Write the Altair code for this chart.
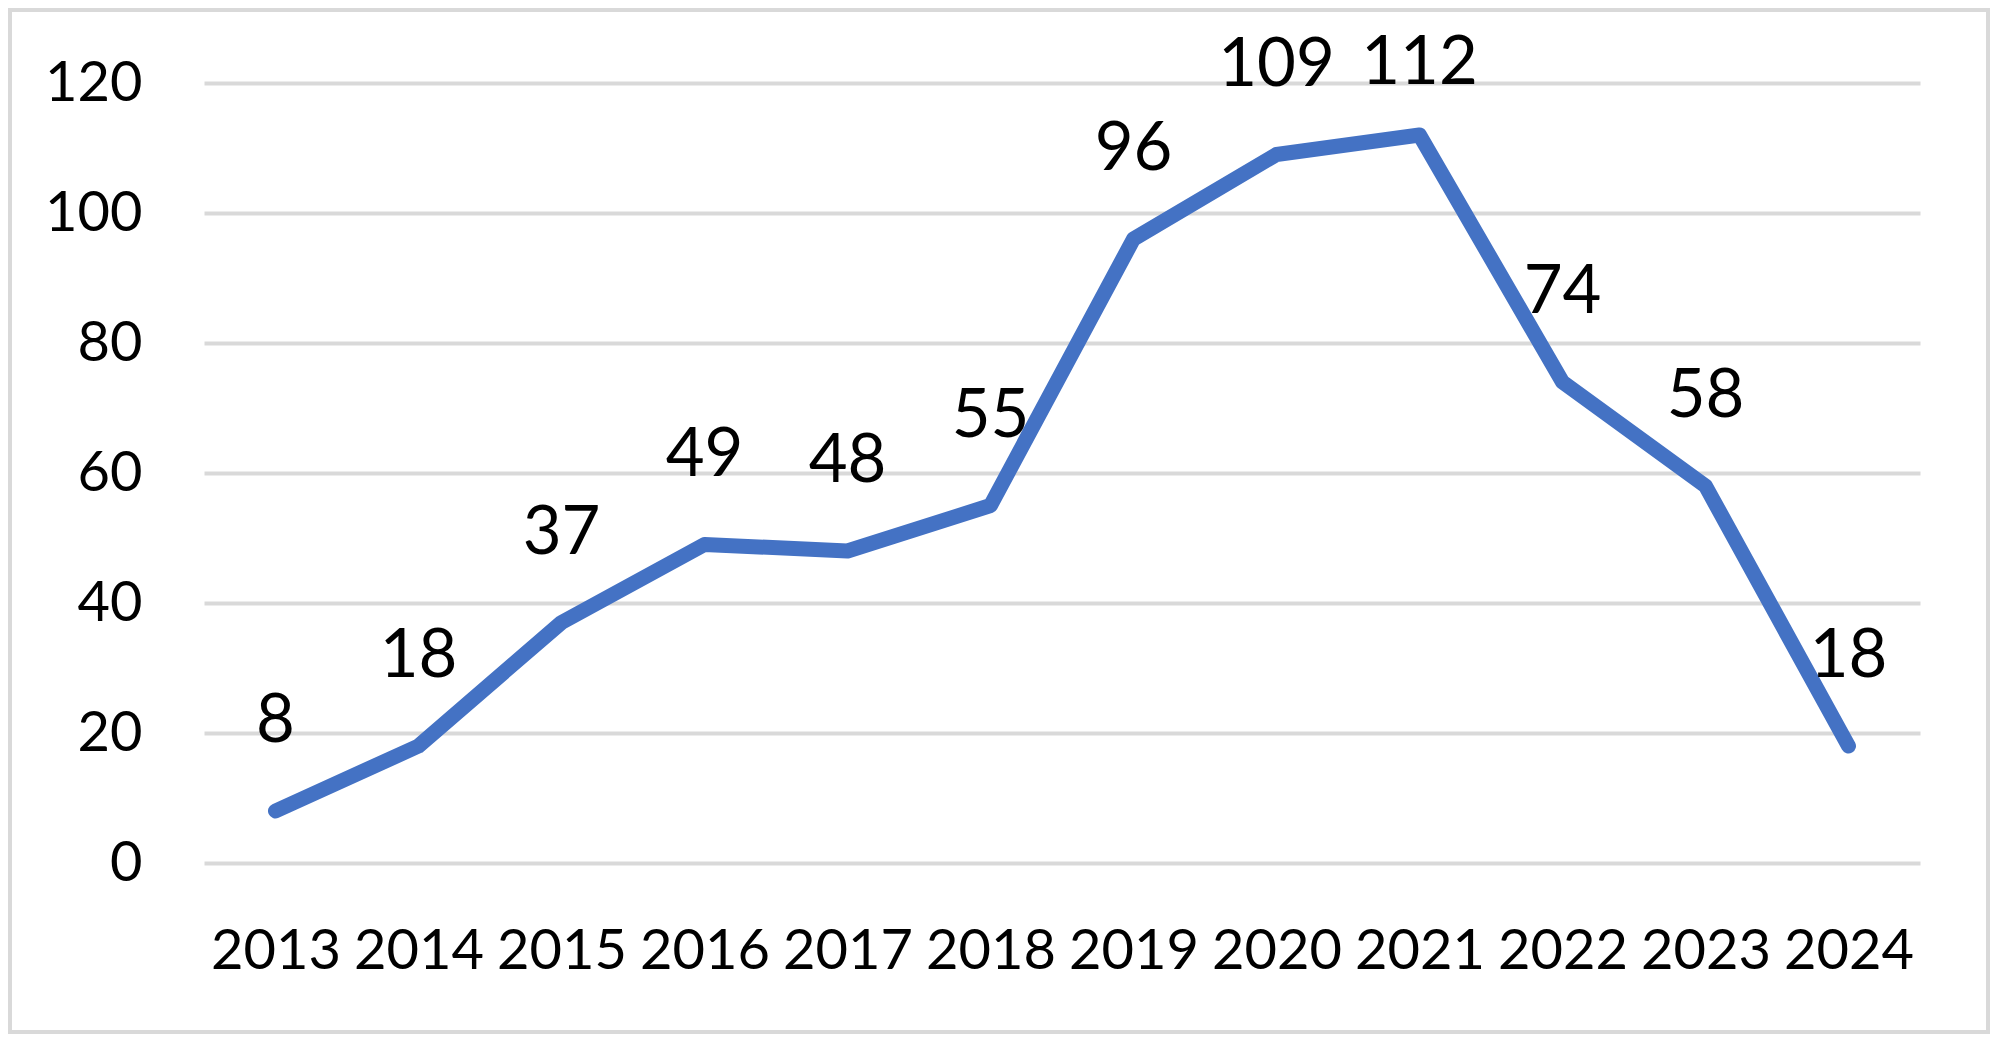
import altair as alt
import pandas as pd

years = ["2013", "2014", "2015", "2016", "2017", "2018", "2019", "2020", "2021", "2022", "2023", "2024"]
values = [8, 18, 37, 49, 48, 55, 96, 109, 112, 74, 58, 18]
y_ticks = [0, 20, 40, 60, 80, 100, 120]

df = pd.DataFrame({"year": years, "value": values})

FONT = "Lato"
PLOT_W = 1716
PLOT_H = 780
PAD_L, PAD_T, PAD_R, PAD_B = 196, 75, 70, 171

x_enc = alt.X(
    "year:O",
    sort=years,
    title=None,
    axis=alt.Axis(
        labelAngle=0,
        labelFont=FONT,
        labelFontSize=56,
        labelColor="#000000",
        labelPadding=61,
        ticks=False,
        tickSize=0,
        domain=False,
        grid=False,
    ),
)
y_enc = alt.Y(
    "value:Q",
    title=None,
    scale=alt.Scale(domain=[0, 120], nice=False),
    axis=alt.Axis(
        values=y_ticks,
        labelFont=FONT,
        labelFontSize=56,
        labelColor="#000000",
        labelPadding=62,
        ticks=False,
        tickSize=0,
        domain=False,
        grid=True,
        gridColor="#d9d9d9",
        gridWidth=4,
    ),
)

base = alt.Chart(df)

line = base.mark_line(
    color="#4472C4", strokeWidth=15, strokeCap="round", strokeJoin="round"
).encode(x=x_enc, y=y_enc)

# Data labels sit above each point, but are kept inside the chart area (as Excel does)
labels = (
    base.transform_calculate(label_y="min(datum.value, 109.2)")
    .mark_text(font=FONT, fontSize=67, color="#000000", baseline="alphabetic", dy=-69)
    .encode(
        x=alt.X("year:O", sort=years),
        y=alt.Y("label_y:Q"),
        text=alt.Text("value:Q"),
    )
)

border_df = pd.DataFrame({"k": [0]})
border = alt.Chart(border_df).mark_rect(
    filled=False, stroke="#d9d9d9", strokeWidth=4
).encode(
    x=alt.value(-PAD_L + 2),
    x2=alt.value(PLOT_W + PAD_R - 2),
    y=alt.value(-PAD_T + 2),
    y2=alt.value(PLOT_H + PAD_B - 2),
)

chart = (
    alt.layer(border, line, labels)
    .properties(
        width=PLOT_W,
        height=PLOT_H,
        autosize=alt.AutoSizeParams(type="none"),
        padding={"left": PAD_L, "top": PAD_T, "right": PAD_R, "bottom": PAD_B},
        background="#ffffff",
    )
    .configure_view(stroke=None)
)

chart.save("out.html", embed_options={"renderer": "svg", "actions": False})
